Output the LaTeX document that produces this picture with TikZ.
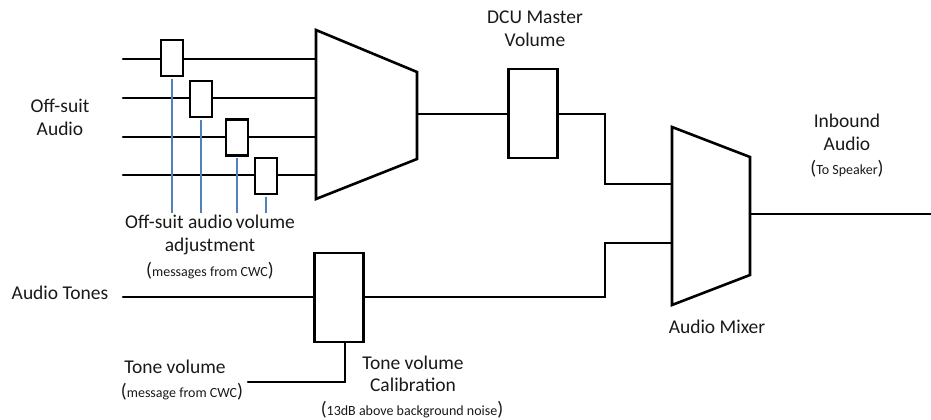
\documentclass[tikz,border=0pt]{standalone}
\usepackage{fontspec}
\setmainfont{Carlito}
\definecolor{ctrlblue}{RGB}{79,129,189}
\definecolor{txt}{RGB}{25,25,25}
\newcommand{\bigf}{\fontsize{19.5}{23}\selectfont}
\newcommand{\smf}{\fontsize{14}{16}\selectfont}
\begin{document}
\begin{tikzpicture}[x=1pt,y=-1pt,
  wire/.style={line width=2.6pt, line cap=round, line join=miter},
  ctrl/.style={line width=1.3pt, ctrlblue},
  gainbox/.style={draw, line width=2.6pt, fill=white, minimum width=22pt, minimum height=36pt, inner sep=0pt},
  bigbox/.style={draw, line width=2.6pt, fill=white, minimum width=49pt, minimum height=89pt, inner sep=0pt},
  lbl/.style={text=txt, inner sep=0pt, font=\bigf}
]
\useasboundingbox (0,0) rectangle (931,420);

% summing mux (trapezoid)
\coordinate (m1) at (316,30);
\coordinate (m2) at (417,72);
\coordinate (m3) at (417,159);
\coordinate (m4) at (316,199);
\coordinate (mout) at (417,114);
% audio mixer
\coordinate (x1) at (672,127);
\coordinate (x2) at (750,157);
\coordinate (x3) at (750,275);
\coordinate (x4) at (672,305);
\coordinate (xin1) at (672,184);
\coordinate (xin2) at (672,243);
\coordinate (xout) at (750,214);
\coordinate (end) at (931,214);

% input line starts and mux inputs
\foreach \i/\y in {1/59,2/98,3/137,4/175}{
  \coordinate (s\i) at (123,\y);
  \coordinate (e\i) at (316,\y);
}
\foreach \i in {1,...,4}{ \draw[wire] (s\i) -- (e\i); }

% gain boxes
\node[gainbox] (g1) at (172,58) {};
\node[gainbox] (g2) at (201,99) {};
\node[gainbox] (g3) at (237,137.5) {};
\node[gainbox] (g4) at (266,176) {};
\foreach \i in {1,...,4}{
  \coordinate (b\i) at ([yshift=-1.3pt]g\i.south);
  \draw[ctrl] (b\i) -- (b\i |- 0,213);
}

\draw[wire, fill=white, line cap=butt] (m1) -- (m2) -- (m3) -- (m4) -- cycle;

% DCU master
\node[bigbox] (dcu) at (533,113.5) {};
\draw[wire] (mout) -- (dcu.west |- mout);
\draw[wire] (dcu.east |- mout) -| (605,184) -- (xin1);

% Audio tones
\coordinate (t0) at (123,297);
\node[bigbox] (tone) at (339,297.5) {};
\draw[wire] (t0) -- (tone.west |- t0);
\draw[wire] (tone.east |- t0) -| (605,243) -- (xin2);
\coordinate (tv) at (248,382);
\draw[wire] (tone.south -| 345,0) |- (tv);

% mixer
\draw[wire, fill=white, line cap=butt] (x1) -- (x2) -- (x3) -- (x4) -- cycle;
\draw[wire] (xout) -- (end);

% texts
\node[lbl] (os1) at (60,106) {Off-suit};
\node[lbl] (os2) at (60,129) {Audio};
\node[lbl] (at) at (60,293) {Audio Tones};
\node[lbl] (adj1) at (210,222) {Off-suit audio\,volume};
\node[lbl] (adj2) at (210,246) {adjustment};
\node[lbl] (adj3) at (210,271) {({\smf messages from CWC})};
\node[lbl] (dm1) at (535,17) {DCU Master};
\node[lbl] (dm2) at (535,40) {Volume};
\node[lbl] (ib1) at (847,121) {Inbound};
\node[lbl] (ib2) at (847,144) {Audio};
\node[lbl] (ib3) at (847,169) {({\smf To Speaker})};
\node[lbl] (mx) at (717,327) {Audio Mixer};
\node[lbl] (tv1) at (175,367) {Tone volume};
\node[lbl] (tv2) at (182,392) {({\smf message from CWC})};
\node[lbl] (tc1) at (413,363) {Tone volume};
\node[lbl] (tc2) at (413,385) {Calibration};
\node[lbl] (tc3) at (412,410) {({\smf 13dB above background noise})};
\end{tikzpicture}
\end{document}
